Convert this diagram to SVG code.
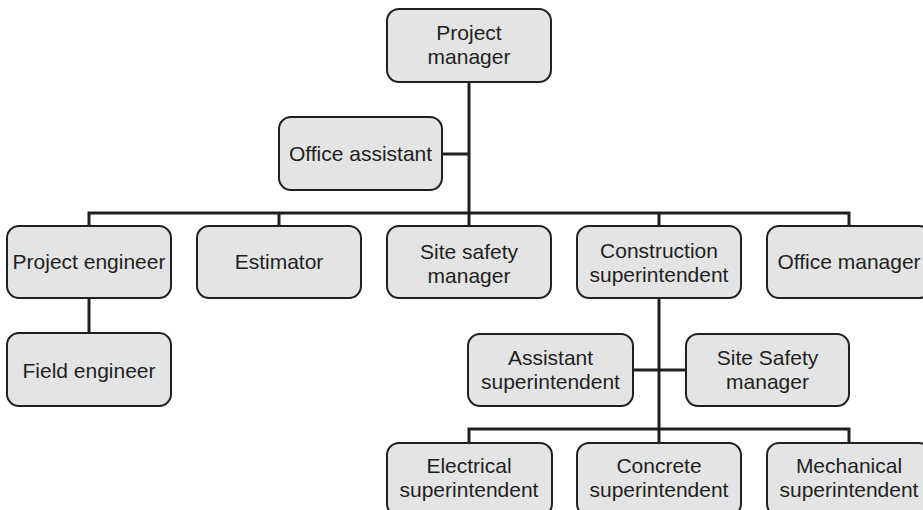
<svg xmlns="http://www.w3.org/2000/svg" width="923" height="510" viewBox="0 0 923 510">
  <style>
    .box { fill: #e3e4e5; stroke: #231f20; stroke-width: 2; }
    .lbl { font-family: "Liberation Sans", Arial, sans-serif; font-size: 21px; fill: #231f20; text-anchor: middle; }
    .wire { fill: none; stroke: #231f20; stroke-width: 3; stroke-linecap: butt; }
  </style>
  <rect width="923" height="510" fill="#ffffff"/>

  <!-- connectors -->
  <g id="connectors" class="wire">
    <path d="M469 82 V213"/>
    <path d="M442 154 H469"/>
    <path d="M89 226 V213 H849 V226"/>
    <path d="M279 213 V226"/>
    <path d="M469 213 V226"/>
    <path d="M659 213 V226"/>
    <path d="M89 298 V333"/>
    <path d="M659 298 V429"/>
    <path d="M633 370 H686"/>
    <path d="M469 443 V429 H849 V443"/>
    <path d="M659 429 V443"/>
  </g>

  <g id="project-manager">
    <rect class="box" x="387" y="9" width="164" height="73" rx="12"/>
    <text class="lbl" x="469" y="40">Project</text>
    <text class="lbl" x="469" y="64">manager</text>
  </g>

  <g id="office-assistant">
    <rect class="box" x="279" y="117" width="163" height="73" rx="12"/>
    <text class="lbl" x="360.5" y="161">Office assistant</text>
  </g>

  <g id="project-engineer">
    <rect class="box" x="7" y="226" width="164" height="72" rx="12"/>
    <text class="lbl" x="89" y="269">Project engineer</text>
  </g>

  <g id="estimator">
    <rect class="box" x="197" y="226" width="164" height="72" rx="12"/>
    <text class="lbl" x="279" y="269">Estimator</text>
  </g>

  <g id="site-safety-manager">
    <rect class="box" x="387" y="226" width="164" height="72" rx="12"/>
    <text class="lbl" x="469" y="259">Site safety</text>
    <text class="lbl" x="469" y="283">manager</text>
  </g>

  <g id="construction-superintendent">
    <rect class="box" x="577" y="226" width="164" height="72" rx="12"/>
    <text class="lbl" x="659" y="258">Construction</text>
    <text class="lbl" x="659" y="282">superintendent</text>
  </g>

  <g id="office-manager">
    <rect class="box" x="767" y="226" width="164" height="72" rx="12"/>
    <text class="lbl" x="849" y="269">Office manager</text>
  </g>

  <g id="field-engineer">
    <rect class="box" x="7" y="333" width="164" height="73" rx="12"/>
    <text class="lbl" x="89" y="378">Field engineer</text>
  </g>

  <g id="assistant-superintendent">
    <rect class="box" x="468" y="334" width="165" height="72" rx="12"/>
    <text class="lbl" x="550.5" y="365">Assistant</text>
    <text class="lbl" x="550.5" y="389">superintendent</text>
  </g>

  <g id="site-safety-manager-2">
    <rect class="box" x="686" y="334" width="163" height="72" rx="12"/>
    <text class="lbl" x="767.5" y="365">Site Safety</text>
    <text class="lbl" x="767.5" y="389">manager</text>
  </g>

  <g id="electrical-superintendent">
    <rect class="box" x="387" y="443" width="165" height="73" rx="12"/>
    <text class="lbl" x="469" y="473">Electrical</text>
    <text class="lbl" x="469" y="497">superintendent</text>
  </g>

  <g id="concrete-superintendent">
    <rect class="box" x="577" y="443" width="164" height="73" rx="12"/>
    <text class="lbl" x="659" y="473">Concrete</text>
    <text class="lbl" x="659" y="497">superintendent</text>
  </g>

  <g id="mechanical-superintendent">
    <rect class="box" x="767" y="443" width="164" height="73" rx="12"/>
    <text class="lbl" x="849" y="473">Mechanical</text>
    <text class="lbl" x="849" y="497">superintendent</text>
  </g>
</svg>
